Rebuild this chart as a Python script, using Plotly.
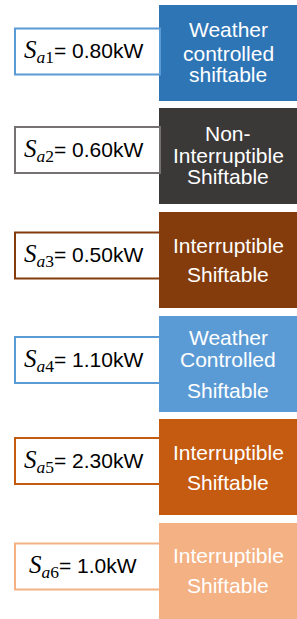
import plotly.graph_objects as go

# ---- data ----
appliances = ["a1", "a2", "a3", "a4", "a5", "a6"]
power_kw = [0.80, 0.60, 0.50, 1.10, 2.30, 1.0]
power_labels = ["0.80", "0.60", "0.50", "1.10", "2.30", "1.0"]
categories = [
    ["Weather", "controlled", "shiftable"],
    ["Non-", "Interruptible", "Shiftable"],
    ["Interruptible", "Shiftable"],
    ["Weather", "Controlled", "Shiftable"],
    ["Interruptible", "Shiftable"],
    ["Interruptible", "Shiftable"],
]

# ---- styles / layout ----
fill_colors = ["#2E75B6", "#3B3838", "#843C0C", "#5B9BD5", "#C55A11", "#F4B183"]
border_colors = ["#5B9BD5", "#767171", "#843C0C", "#5B9BD5", "#C55A11", "#F4B183"]
box_tops = [5, 108, 212, 316, 419, 523]
box_h = 96
line_offsets = [
    [-23.5, 0.5, 21.5],
    [-23, -1, 20],
    [-15, 14],
    [-27, -4.5, 26],
    [-15, 15],
    [-16, 14],
]
label_offsets = [-1.5, -6, -4.5, -4, -6, -4.5]

W, H = 297, 619
fig = go.Figure()
fig.add_trace(go.Scatter(x=[0, W], y=[0, H], mode="markers",
                         marker=dict(opacity=0), hoverinfo="skip", showlegend=False))

shapes = []
annotations = []
for i, name in enumerate(appliances):
    top = box_tops[i]
    cy = top + box_h / 2
    shapes.append(dict(type="rect", xref="x", yref="y", x0=159, x1=297,
                       y0=top, y1=top + box_h, fillcolor=fill_colors[i],
                       line=dict(width=0), layer="above"))
    for line, off in zip(categories[i], line_offsets[i]):
        annotations.append(dict(x=228, y=cy + off, xref="x", yref="y", text=line,
                                showarrow=False, xanchor="center", yanchor="middle",
                                font=dict(family="Liberation Sans, Arial", size=21, color="white")))
    ly = cy + label_offsets[i]
    shapes.append(dict(type="rect", xref="x", yref="y", x0=15, x1=160,
                       y0=ly - 23, y1=ly + 23, fillcolor="white",
                       line=dict(width=2, color=border_colors[i]), layer="above"))
    sub = name[0]
    num = name[1:]
    text = ("<span style='font-family:Liberation Serif;font-size:25px'><i>S</i><sub><i>" + sub + "</i>" + num +
            "</sub></span>= " + power_labels[i] + "kW")
    annotations.append(dict(x=83, y=ly, xref="x", yref="y", text=text, showarrow=False,
                            xanchor="center", yanchor="middle",
                            font=dict(family="Liberation Sans, Arial", size=21, color="black")))

fig.update_layout(
    width=W, height=H, margin=dict(l=0, r=0, t=0, b=0),
    paper_bgcolor="white", plot_bgcolor="white",
    xaxis=dict(range=[0, W], visible=False, fixedrange=True),
    yaxis=dict(range=[H, 0], visible=False, fixedrange=True),
    shapes=shapes, annotations=annotations,
)
fig.write_html("out.html", config=dict(displayModeBar=False),
               post_script="document.body.style.margin='0';document.body.style.overflow='hidden';")
